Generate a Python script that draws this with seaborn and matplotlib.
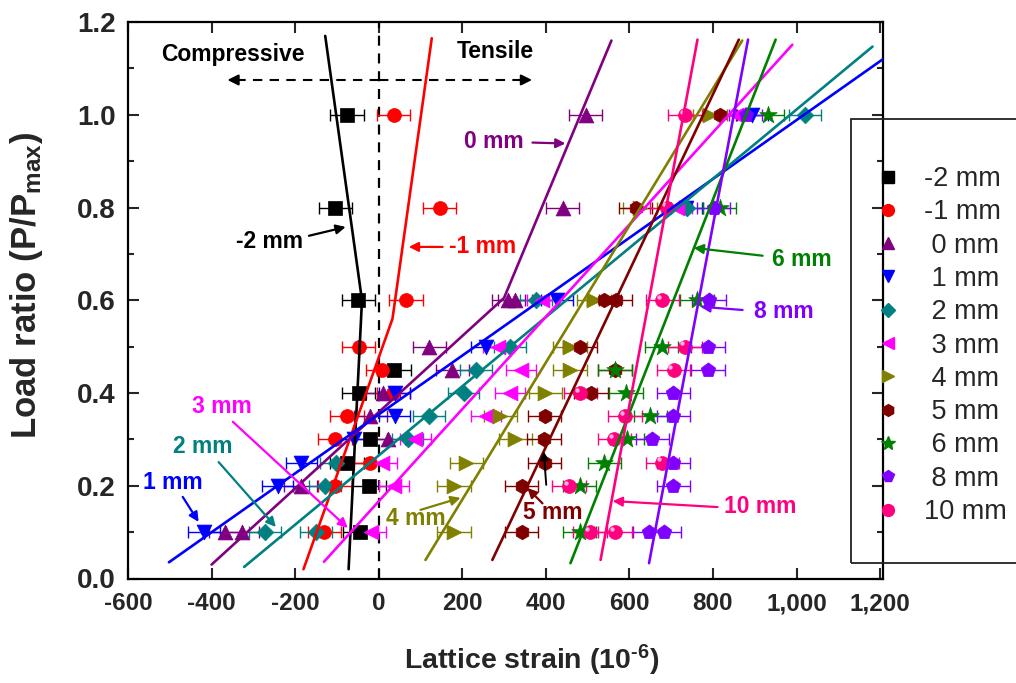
import matplotlib
matplotlib.use("Agg")
import matplotlib.pyplot as plt
import matplotlib.patches as mpatches
from matplotlib.lines import Line2D
from matplotlib.transforms import ScaledTranslation
from matplotlib.ticker import FuncFormatter, MultipleLocator
import seaborn as sns
import pandas as pd

sns.set_theme(style="ticks")
plt.rcParams["font.family"] = ["Liberation Sans", "DejaVu Sans"]
plt.rcParams["mathtext.fontset"] = "custom"
plt.rcParams["mathtext.rm"] = "Liberation Sans:bold"
plt.rcParams["mathtext.it"] = "Liberation Sans:bold"
plt.rcParams["mathtext.bf"] = "Liberation Sans:bold"
plt.rcParams["axes.unicode_minus"] = False

# ---- measured lattice strain (1e-6) at each load ratio, per distance ----
labels = ["-2 mm", "-1 mm", " 0 mm", " 1 mm", " 2 mm", " 3 mm",
          " 4 mm", " 5 mm", " 6 mm", " 8 mm", "10 mm"]
colors = ["#000000", "#FF0000", "#800080", "#0000FF", "#008080", "#FF00FF",
          "#808000", "#800000", "#008000", "#8000FF", "#FF0080"]
markers = ["s", "o", "^", "v", "D", "<", ">", "h", "*", "p", "o"]

load_m2 = [1.0, 0.8, 0.6, 0.45, 0.4, 0.3, 0.25, 0.2, 0.1]
strain_m2 = [-76, -104, -49, 37, -48, -20, -76, -23, -45]

load_m1 = [1.0, 0.8, 0.6, 0.5, 0.45, 0.4, 0.35, 0.3, 0.25, 0.2, 0.1]
strain_m1 = [36, 146, 65, -48, 9, 35, -76, -105, -20, -105, -130]

load_0 = [1.0, 0.8, 0.6, 0.6, 0.5, 0.45, 0.4, 0.35, 0.3, 0.2, 0.1, 0.1]
strain_0 = [495, 440, 310, 326, 121, 176, 10, -20, 23, -187, -367, -326]

load_1 = [1.0, 0.8, 0.6, 0.5, 0.4, 0.35, 0.3, 0.25, 0.2, 0.1]
strain_1 = [894, 735, 427, 258, 38, 38, -60, -185, -242, -418]

load_2 = [1.0, 0.8, 0.6, 0.5, 0.45, 0.4, 0.35, 0.3, 0.25, 0.2, 0.1, 0.1]
strain_2 = [1021, 738, 376, 314, 233, 203, 121, 69, -103, -128, -272, -150]

load_3 = [1.0, 0.8, 0.6, 0.5, 0.45, 0.4, 0.35, 0.3, 0.25, 0.2, 0.1]
strain_3 = [854, 715, 392, 285, 340, 314, 257, 88, 8, 36, -18]

load_4 = [1.0, 0.8, 0.6, 0.5, 0.45, 0.4, 0.35, 0.3, 0.25, 0.2, 0.1]
strain_4 = [793, 625, 515, 458, 458, 399, 291, 327, 210, 180, 180]

load_5 = [1.0, 0.8, 0.6, 0.6, 0.5, 0.45, 0.4, 0.35, 0.3, 0.25, 0.2, 0.1]
strain_5 = [817, 615, 539, 567, 482, 566, 508, 397, 396, 397, 342, 342]

load_6 = [1.0, 0.8, 0.6, 0.5, 0.45, 0.4, 0.35, 0.3, 0.25, 0.2, 0.1]
strain_6 = [931, 816, 762, 677, 566, 592, 650, 594, 540, 481, 481]

load_8 = [1.0, 0.8, 0.6, 0.5, 0.45, 0.4, 0.35, 0.3, 0.25, 0.2, 0.1, 0.1]
strain_8 = [878, 802, 791, 788, 788, 705, 705, 655, 705, 705, 648, 684]

load_10 = [1.0, 0.8, 0.6, 0.5, 0.45, 0.4, 0.35, 0.3, 0.25, 0.2, 0.1, 0.1]
strain_10 = [733, 690, 679, 733, 706, 483, 590, 564, 679, 455, 506, 566]

# half-width of the strain error bars
strain_err = [40, 40, 40, 38, 38, 36, 40, 40, 40, 40, 40]

# ---- fitted trend lines (load ratio, strain) ----
fit_load_m2 = [0.02, 0.60, 1.17]
fit_strain_m2 = [-72, -40, -128]
fit_load_m1 = [0.02, 0.56, 1.165]
fit_strain_m1 = [-180, 33, 127]
fit_load_0 = [0.03, 0.605, 1.16]
fit_strain_0 = [-400, 300, 557]
fit_load_1 = [0.035, 1.125]
fit_strain_1 = [-502, 1215]
fit_load_2 = [0.025, 1.147]
fit_strain_2 = [-322, 1182]
fit_load_3 = [0.036, 1.151]
fit_strain_3 = [-131, 990]
fit_load_4 = [0.04, 1.16]
fit_strain_4 = [112, 870]
fit_load_5 = [0.04, 1.162]
fit_strain_5 = [272, 862]
fit_load_6 = [0.033, 1.162]
fit_strain_6 = [459, 950]
fit_load_8 = [0.033, 1.162]
fit_strain_8 = [647, 884]
fit_load_10 = [0.04, 1.162]
fit_strain_10 = [531, 763]

points = [(load_m2, strain_m2), (load_m1, strain_m1), (load_0, strain_0),
          (load_1, strain_1), (load_2, strain_2), (load_3, strain_3),
          (load_4, strain_4), (load_5, strain_5), (load_6, strain_6),
          (load_8, strain_8), (load_10, strain_10)]
fits = [(fit_load_m2, fit_strain_m2), (fit_load_m1, fit_strain_m1),
        (fit_load_0, fit_strain_0), (fit_load_1, fit_strain_1),
        (fit_load_2, fit_strain_2), (fit_load_3, fit_strain_3),
        (fit_load_4, fit_strain_4), (fit_load_5, fit_strain_5),
        (fit_load_6, fit_strain_6), (fit_load_8, fit_strain_8),
        (fit_load_10, fit_strain_10)]

marker_area = {"s": 90, "o": 100, "^": 115, "v": 115, "D": 72, "<": 115,
               ">": 115, "h": 110, "*": 175, "p": 120}

fig = plt.figure(figsize=(10.16, 6.83), dpi=100)
ax = fig.add_axes([128 / 1016, 1 - 578.5 / 683, (883 - 128) / 1016, (578.5 - 22) / 683])

# error bars and symbols
for (ld, st), c, m, e in zip(points, colors, markers, strain_err):
    ax.errorbar(st, ld, xerr=e, fmt="none", ecolor=c, elinewidth=1.0,
                capsize=4.5, capthick=1.0, zorder=2)
    df = pd.DataFrame({"strain": st, "load": ld})
    sns.scatterplot(data=df, x="strain", y="load", marker=m, color=c,
                    s=marker_area[m], edgecolor=c, linewidth=0.5, ax=ax,
                    zorder=3, legend=False)

# glossy highlight on the 10 mm spheres
shine = ax.transData + ScaledTranslation(-2.3 / 72, 2.3 / 72, fig.dpi_scale_trans)
ax.scatter(strain_10, load_10, s=10, color="#FFB3D9", transform=shine,
           zorder=4, linewidths=0)

# fitted lines
for (fl, fs), c in zip(fits, colors):
    dfl = pd.DataFrame({"strain": fs, "load": fl})
    sns.lineplot(data=dfl, x="strain", y="load", sort=False, color=c,
                 linewidth=1.9, ax=ax, zorder=5)

# zero-strain divider and direction arrows
ax.axvline(0, color="black", linestyle=(0, (4.5, 3.5)), linewidth=1.6, zorder=1)
ax.plot([0, -330], [1.075, 1.075], color="black", linestyle=(0, (4.5, 3.5)), lw=1.5)
ax.plot([0, 335], [1.075, 1.075], color="black", linestyle=(0, (4.5, 3.5)), lw=1.5)
for x0, x1 in [(-330, -362), (335, 367)]:
    ax.annotate("", xy=(x1, 1.075), xytext=(x0, 1.075),
                arrowprops=dict(arrowstyle="-|>", color="black", lw=1.5,
                                mutation_scale=16, shrinkA=0, shrinkB=0))
ax.text(-349, 1.13, "Compressive", ha="center", va="center",
        fontsize=16.5, fontweight="bold", color="black")
ax.text(280, 1.136, "Tensile", ha="center", va="center",
        fontsize=16.5, fontweight="bold", color="black")

# series callouts: (text, text position, arrow tail, arrow head, colour)
callouts = [
    ("-2 mm", (-261, 0.726), (-167, 0.739), (-79, 0.758), "#000000"),
    ("-1 mm", (249, 0.715), (153, 0.715), (72, 0.715), "#FF0000"),
    ("0 mm", (275, 0.942), (368, 0.940), (447, 0.938), "#800080"),
    ("6 mm", (1012, 0.687), (919, 0.696), (754, 0.713), "#008000"),
    ("8 mm", (969, 0.575), (871, 0.579), (770, 0.586), "#8000FF"),
    ("10 mm", (914, 0.156), (811, 0.154), (560, 0.167), "#FF0080"),
    ("5 mm", (416, 0.143), (392, 0.162), (356, 0.195), "#800000"),
    ("4 mm", (89, 0.130), (100, 0.148), (196, 0.174), "#808000"),
    ("3 mm", (-376, 0.370), (-349, 0.338), (-74, 0.109), "#FF00FF"),
    ("2 mm", (-421, 0.284), (-383, 0.251), (-246, 0.111), "#008080"),
    ("1 mm", (-493, 0.208), (-469, 0.176), (-431, 0.122), "#0000FF"),
]
for txt, tpos, tail, head, c in callouts:
    ax.text(tpos[0], tpos[1], txt, ha="center", va="center", fontsize=16.5,
            fontweight="bold", color=c, zorder=6)
    ax.annotate("", xy=head, xytext=tail,
                arrowprops=dict(arrowstyle="-|>", color=c, lw=1.6,
                                mutation_scale=14, shrinkA=0, shrinkB=0),
                zorder=6)
# extra pointer onto the 5 mm line
ax.annotate("", xy=(395, 0.274), xytext=(401, 0.202),
            arrowprops=dict(arrowstyle="-|>", color="black", lw=1.4,
                            mutation_scale=12, shrinkA=0, shrinkB=0), zorder=6)

# axes styling
ax.set_xlim(-600, 1207)
ax.set_ylim(0, 1.2)
ax.xaxis.set_major_locator(MultipleLocator(200))
ax.yaxis.set_major_locator(MultipleLocator(0.2))
ax.yaxis.set_minor_locator(MultipleLocator(0.1))
ax.xaxis.set_major_formatter(FuncFormatter(lambda v, p: f"{int(round(v)):,}"))
ax.yaxis.set_major_formatter(FuncFormatter(lambda v, p: f"{v:.1f}"))
ax.tick_params(axis="both", which="major", direction="in", length=8, width=1.5,
               top=True, right=True)
ax.tick_params(axis="x", which="major", labelsize=17.5, pad=10)
ax.tick_params(axis="y", which="major", labelsize=20, pad=9)
ax.tick_params(axis="both", which="minor", direction="in", length=4.5, width=1.5,
               top=True, right=True)
for lab in ax.get_xticklabels() + ax.get_yticklabels():
    lab.set_fontweight("bold")
for sp in ax.spines.values():
    sp.set_linewidth(1.6)
    sp.set_color("black")
ax.set_xlabel("Lattice strain (10$^{\\text{-}6}$)", fontsize=20.5, fontweight="bold")
ax.xaxis.set_label_coords((532 - 128) / 755, -(643 - 578.5) / 556.5)
ax.set_ylabel("Load ratio (P/P$_{\\mathregular{max}}$)", fontsize=25,
              fontweight="bold")
ax.yaxis.set_label_coords(-(128 - 45) / 755, (578.5 - 285) / 556.5)

# legend panel
handles = [Line2D([], [], linestyle="None", marker=m, color=c, markeredgecolor=c,
                  markersize=(8.5 if m != "*" else 10.5) if m != "D" else 7.5)
           for m, c in zip(markers, colors)]
leg = fig.legend(handles, labels, loc="upper left",
                 bbox_to_anchor=(874 / 1016, 1 - 166 / 683), frameon=False,
                 fontsize=19.5, handlelength=1.0, handletextpad=0.85,
                 labelspacing=0.27, borderpad=0, borderaxespad=0)
fig.add_artist(mpatches.Rectangle((851 / 1016, 1 - 563 / 683),
                                  (1030 - 851) / 1016, (563 - 119) / 683,
                                  transform=fig.transFigure, fill=False,
                                  edgecolor="#222222", linewidth=1.3))

fig.savefig("out.png", dpi=100)
